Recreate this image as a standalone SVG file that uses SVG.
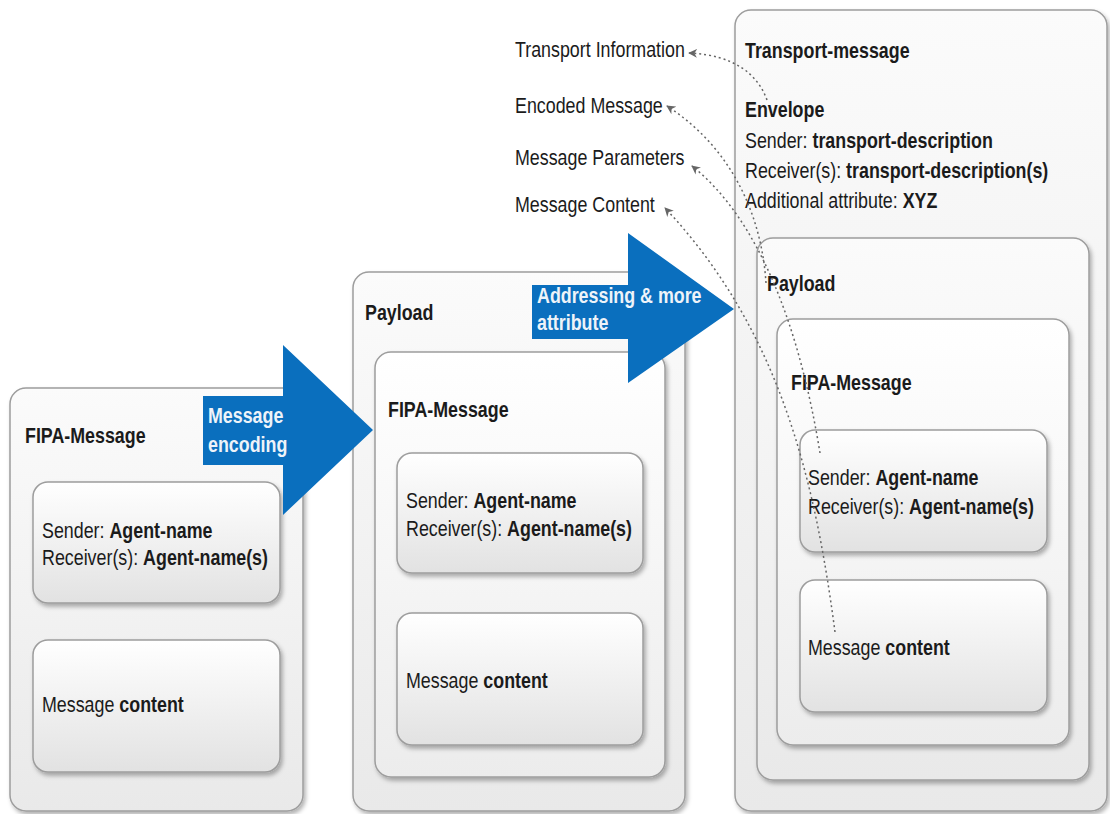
<svg xmlns="http://www.w3.org/2000/svg" width="1110" height="814" viewBox="0 0 1110 814">
  <style>
    .t { font-family: 'Liberation Sans', Arial, sans-serif; font-size: 21.5px; fill: #1b1b1b; }
    .b { font-weight: bold; }
    .w { font-family: 'Liberation Sans', Arial, sans-serif; font-size: 21.5px; font-weight: bold; fill: #eef3f9; }
    .outer { fill: url(#gOuter); stroke: #9d9d9d; stroke-width: 1.5; filter: url(#shadow); }
    .mid { fill: url(#gMid); stroke: #9d9d9d; stroke-width: 1.5; filter: url(#shadow); }
    .inner { fill: url(#gInner); stroke: #9d9d9d; stroke-width: 1.5; filter: url(#shadow); }
    .arrow { fill: #0a6fbe; }
    .link { fill: none; stroke: #666666; stroke-width: 1.5; stroke-dasharray: 2 3; marker-end: url(#head); }
  </style>
  <defs>
    <linearGradient id="gOuter" x1="0" y1="0" x2="0" y2="1">
      <stop offset="0" stop-color="#fbfbfb"/>
      <stop offset="1" stop-color="#e9e9e9"/>
    </linearGradient>
    <linearGradient id="gMid" x1="0" y1="0" x2="0" y2="1">
      <stop offset="0" stop-color="#ffffff"/>
      <stop offset="1" stop-color="#ececec"/>
    </linearGradient>
    <linearGradient id="gInner" x1="0" y1="0" x2="0" y2="1">
      <stop offset="0" stop-color="#ffffff"/>
      <stop offset="1" stop-color="#e2e2e2"/>
    </linearGradient>
    <filter id="shadow" x="-5%" y="-5%" width="115%" height="115%">
      <feDropShadow dx="2" dy="3" stdDeviation="2" flood-color="#000" flood-opacity="0.3"/>
    </filter>
    <marker id="head" viewBox="0 0 10 10" refX="9" refY="5" markerWidth="9" markerHeight="9" markerUnits="userSpaceOnUse" orient="auto">
      <path d="M0,0 L10,5 L0,10 L3,5 z" fill="#666666"/>
    </marker>
  </defs>

  <!-- Stage 1: plain FIPA message -->
  <g id="fipa-message-1">
    <rect class="outer" x="10" y="388" width="293" height="423" rx="16"/>
    <text class="t b" transform="translate(25 443) scale(0.83 1)">FIPA-Message</text>
  </g>
  <g id="addressing-1">
    <rect class="inner" x="33" y="482" width="247" height="121" rx="15"/>
    <text class="t" transform="translate(42 538) scale(0.83 1)">Sender: <tspan class="b">Agent-name</tspan></text>
    <text class="t" transform="translate(42 565) scale(0.83 1)">Receiver(s): <tspan class="b">Agent-name(s)</tspan></text>
  </g>
  <g id="content-1">
    <rect class="inner" x="33" y="640" width="247" height="132" rx="15"/>
    <text class="t" transform="translate(42 712) scale(0.83 1)">Message <tspan class="b">content</tspan></text>
  </g>

  <!-- Stage 2: encoded payload -->
  <g id="payload-2">
    <rect class="outer" x="353" y="272" width="332" height="539" rx="16"/>
    <text class="t b" transform="translate(365 320) scale(0.83 1)">Payload</text>
  </g>
  <g id="fipa-message-2">
    <rect class="mid" x="375" y="352" width="290" height="425" rx="16"/>
    <text class="t b" transform="translate(388 417) scale(0.83 1)">FIPA-Message</text>
  </g>
  <g id="addressing-2">
    <rect class="inner" x="397" y="453" width="246" height="120" rx="15"/>
    <text class="t" transform="translate(406 508) scale(0.83 1)">Sender: <tspan class="b">Agent-name</tspan></text>
    <text class="t" transform="translate(406 536) scale(0.83 1)">Receiver(s): <tspan class="b">Agent-name(s)</tspan></text>
  </g>
  <g id="content-2">
    <rect class="inner" x="397" y="613" width="246" height="132" rx="15"/>
    <text class="t" transform="translate(406 688) scale(0.83 1)">Message <tspan class="b">content</tspan></text>
  </g>

  <!-- Stage 3: transport message -->
  <g id="transport-message">
    <rect class="outer" x="735" y="10" width="372" height="801" rx="16"/>
    <text class="t b" transform="translate(745 58) scale(0.83 1)">Transport-message</text>
    <text class="t b" transform="translate(745 117) scale(0.83 1)">Envelope</text>
    <text class="t" transform="translate(745 148) scale(0.83 1)">Sender: <tspan class="b">transport-description</tspan></text>
    <text class="t" transform="translate(745 178) scale(0.83 1)">Receiver(s): <tspan class="b">transport-description(s)</tspan></text>
    <text class="t" transform="translate(745 208) scale(0.83 1)">Additional attribute: <tspan class="b">XYZ</tspan></text>
  </g>
  <g id="payload-3">
    <rect class="outer" x="757" y="238" width="332" height="542" rx="16"/>
    <text class="t b" transform="translate(767 291) scale(0.83 1)">Payload</text>
  </g>
  <g id="fipa-message-3">
    <rect class="mid" x="777" y="319" width="292" height="426" rx="16"/>
    <text class="t b" transform="translate(791 390) scale(0.83 1)">FIPA-Message</text>
  </g>
  <g id="addressing-3">
    <rect class="inner" x="800" y="430" width="247" height="122" rx="15"/>
    <text class="t" transform="translate(808 485) scale(0.83 1)">Sender: <tspan class="b">Agent-name</tspan></text>
    <text class="t" transform="translate(808 514) scale(0.83 1)">Receiver(s): <tspan class="b">Agent-name(s)</tspan></text>
  </g>
  <g id="content-3">
    <rect class="inner" x="800" y="580" width="247" height="132" rx="15"/>
    <text class="t" transform="translate(808 655) scale(0.83 1)">Message <tspan class="b">content</tspan></text>
  </g>

  <!-- Step arrows -->
  <g id="step-encoding">
    <polygon class="arrow" points="203,396 283,396 283,345 373,430 283,515 283,465 203,465"/>
    <text class="w" transform="translate(208 423) scale(0.83 1)">Message</text>
    <text class="w" transform="translate(208 452) scale(0.83 1)">encoding</text>
  </g>
  <g id="step-addressing">
    <polygon class="arrow" points="532,285 628,285 628,233 734,309 628,383 628,339 532,339"/>
    <text class="w" transform="translate(537 303) scale(0.83 1)">Addressing &amp; more</text>
    <text class="w" transform="translate(537 330) scale(0.83 1)">attribute</text>
  </g>

  <!-- Layer labels -->
  <g id="labels">
    <text class="t" transform="translate(515 57) scale(0.83 1)">Transport Information</text>
    <text class="t" transform="translate(515 113) scale(0.83 1)">Encoded Message</text>
    <text class="t" transform="translate(515 165) scale(0.83 1)">Message Parameters</text>
    <text class="t" transform="translate(515 212) scale(0.83 1)">Message Content</text>
  </g>

  <!-- Dotted leaders from the transport message parts to their labels -->
  <g id="connectors">
    <path class="link" d="M767,100 C758,75 735,55 689,53"/>
    <path class="link" d="M766,283 C762,220 735,150 667,106"/>
    <path class="link" d="M820,453 C800,330 760,220 692,166"/>
    <path class="link" d="M835,632 C815,480 780,330 665,208"/>
  </g>
</svg>
